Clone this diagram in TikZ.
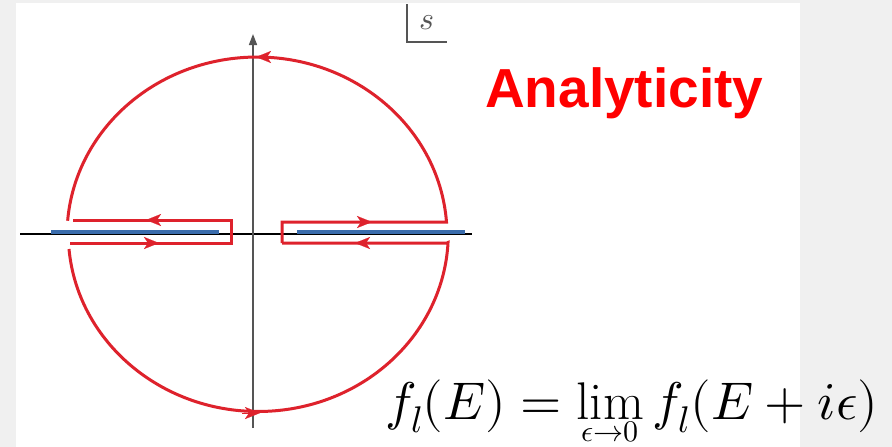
\documentclass[tikz,border=0pt]{standalone}
\usepackage{fontspec}
\usepackage{unicode-math}
\setmathfont{Latin Modern Math}
\newfontfamily\arialfont{Liberation Sans}
\usetikzlibrary{arrows.meta}
\definecolor{contour}{RGB}{222,34,44}
\definecolor{cutblue}{RGB}{58,108,172}
\definecolor{bgtex}{RGB}{240,240,240}
\definecolor{axisgray}{RGB}{85,85,85}
\newcommand\tightlim{\mathop{\vtop{\offinterlineskip\halign{\hfil##\hfil\cr
  $\mathrm{lim}$\cr\noalign{\kern3pt}
  \fontsize{30}{30}\selectfont$\epsilon{\to}0$\cr}}}}
\tikzset{
  contourline/.style={draw=contour, line width=3pt, line join=miter},
  cutline/.style={draw=cutblue, line width=4pt},
  redhead/.style={contour, line width=0.1pt, -{Stealth[length=15pt,width=12pt,inset=4pt]}},
  axisline/.style={line width=1.6pt},
}
\begin{document}
\begin{tikzpicture}[x=1pt,y=-1pt]
\useasboundingbox (0,0) rectangle (892,447);
\fill[bgtex] (0,0) rectangle (892,447);
\fill[white] (16,3) rectangle (800,447);
% axes
\draw[axisline, black] (20,234) -- (472,234);
\draw[axisline, axisgray, -{Triangle[length=11pt,width=8pt]}] (253,428) -- (253,34);
% branch cuts
\draw[cutline] (51,232) -- (219,232);
\draw[cutline] (297,232) -- (465,232);
% contour
\draw[contourline] (282,243) -- (282,222) -- (446.5,222)
  arc[start angle=355.8, end angle=184.6, x radius=190, y radius=178];
\draw[contourline] (73,220) -- (231,220) -- (231,243) -- (70,243);
\draw[contourline] (69,249)
  arc[start angle=175.0, end angle=2.9, x radius=190, y radius=178] -- (446.8,243) -- (282,243);
% arrowheads on contour
\draw[redhead] (274,57) -- (256,57);
\draw[redhead] (242,413) -- (260,413);
\draw[redhead] (166,220) -- (146,220);
\draw[redhead] (139,243) -- (159,243);
\draw[redhead] (352,222) -- (372,222);
\draw[redhead] (375,243) -- (355,243);
% s label
\draw[axisgray, line width=1.3pt] (407,4) -- (407,42) -- (447,42);
\node[text=axisgray, inner sep=0pt, font=\fontsize{32}{34}\selectfont] (slabel) at (427,23) {$s$};
% title
\node[anchor=base west, inner sep=0pt, text=red, font=\arialfont\bfseries\fontsize{55}{60}\selectfont] (title) at (485,107) {Analyticity};
% formula
\node[anchor=base west, inner sep=0pt, font=\fontsize{53}{60}\selectfont] (formula) at (385,419)
  {$f_l(E) = \tightlim f_l(E+i\epsilon)$};
\end{tikzpicture}
\end{document}
